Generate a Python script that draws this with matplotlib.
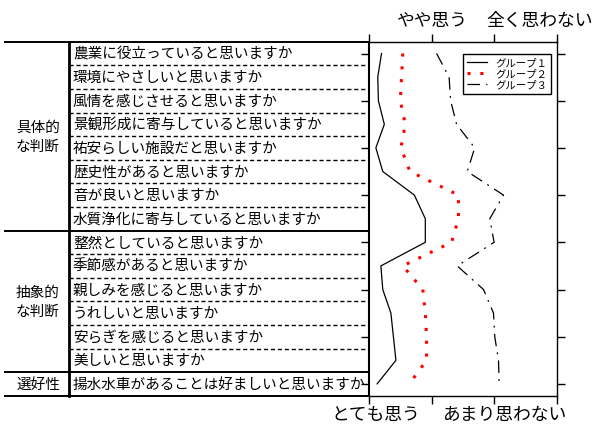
import matplotlib
matplotlib.use("Agg")
import matplotlib.pyplot as plt
import matplotlib.transforms as mtransforms
import numpy as np

plt.rcParams['font.family'] = ['Noto Sans CJK JP', 'DejaVu Sans']

items = ["農業に役立っていると思いますか",
         "環境にやさしいと思いますか",
         "風情を感じさせると思いますか",
         "景観形成に寄与していると思いますか",
         "祐安らしい施設だと思いますか",
         "歴史性があると思いますか",
         "音が良いと思いますか",
         "水質浄化に寄与していると思いますか",
         "整然としていると思いますか",
         "季節感があると思いますか",
         "親しみを感じると思いますか",
         "うれしいと思いますか",
         "安らぎを感じると思いますか",
         "美しいと思いますか",
         "揚水水車があることは好ましいと思いますか"]
groups = ["具体的\nな判断", "抽象的\nな判断", "選好性"]
group_rows = [(0, 7), (8, 13), (14, 14)]

group1 = [1.20, 1.14, 1.15, 1.245, 1.11, 1.22, 1.725, 1.90, 1.90, 1.19, 1.22, 1.35, 1.39, 1.43, 1.13]
group2 = [1.54, 1.52, 1.50, 1.58, 1.51, 1.655, 2.43, 2.43, 2.32, 1.54, 1.86, 1.90, 1.92, 1.92, 1.645]
group3 = [2.08, 2.28, 2.305, 2.40, 2.69, 2.57, 3.15, 2.93, 3.00, 2.41, 2.83, 2.99, 3.01, 3.07, 3.08]
names = ["グループ１", "グループ２", "グループ３"]

# scale labels (bottom: 1 and 3, top: 2 and 4); label centres sit a bit off the ticks
bottom_labels = ["とても思う", "あまり思わない"]
bottom_pos = [1.11, 3.16]
top_labels = ["やや思う", "全く思わない"]
top_pos = [2.02, 3.72]

W, H = 593, 427
fig = plt.figure(figsize=(W / 100, H / 100), dpi=100)

ax_left, ax_right = 369 / W, 556.7 / W
ax_top, ax_bot = 1 - 42.7 / H, 1 - 396.7 / H

# table on the left
tb = fig.add_axes([0, ax_bot, ax_left, ax_top - ax_bot])
tb.set_xlim(0, 369)
tb.set_ylim(14.5, -0.5)
tb.axis('off')
n = len(items)
for y in [-0.5, 7.5, 13.5, 14.5]:
    tb.plot([5, 369], [y, y], color='black', lw=1.4, clip_on=False)
for i in range(n - 1):
    if i + 0.5 in [7.5, 13.5]:
        continue
    tb.plot([69, 369], [i + 0.5, i + 0.5], color='black', lw=1.0,
            dashes=(3, 2), clip_on=False)
tb.plot([69, 69], [-0.5, 14.5], color='black', lw=2, clip_on=False)
for i, t in enumerate(items):
    tb.text(73, i, t, fontsize=10.5, va='center', ha='left')
for g, (a, b) in zip(groups, group_rows):
    tb.text(38, (a + b) / 2, g, fontsize=10.5, va='center', ha='center',
            linespacing=1.45)

# profile plot
ax = fig.add_axes([ax_left, ax_bot, ax_right - ax_left, ax_top - ax_bot])
rows = np.arange(n)
ax.plot(group1, rows, color='black', lw=0.9, label=names[0])
ax.plot(group2, rows, color='red', lw=2.2, linestyle=(0, (1, 3.2)), label=names[1])
ax.plot(group3, rows, color='black', lw=0.9, linestyle=(0, (10, 5, 1.5, 5)), label=names[2])
ax.set_xlim(1, 4)
ax.set_ylim(14.5, -0.5)
ax.set_yticks(np.arange(0, 15, 2))
ax.tick_params(axis='y', left=True, right=True, labelleft=False,
               direction='out', length=6, width=1)
ax.set_xticks([1, 2, 3, 4])
ax.tick_params(axis='x', direction='out', length=6, width=1, top=True,
               labelbottom=False)
for s in ax.spines.values():
    s.set_linewidth(1.0)
ax.spines['left'].set_linewidth(1.5)

trans = mtransforms.blended_transform_factory(ax.transData, fig.transFigure)
for x, t in zip(bottom_pos, bottom_labels):
    ax.text(x, 1 - 415 / H, t, transform=trans, fontsize=12.8,
            ha='center', va='center', clip_on=False)
for x, t in zip(top_pos, top_labels):
    ax.text(x, 1 - 20.7 / H, t, transform=trans, fontsize=12.8,
            ha='center', va='center', clip_on=False)

leg = ax.legend(loc='upper right', bbox_to_anchor=(0.97, 0.966), fontsize=7.5,
                frameon=True, fancybox=False, edgecolor='black', framealpha=1,
                handlelength=1.9, labelspacing=0.12, borderpad=0.35,
                handletextpad=0.85, borderaxespad=0)
leg.get_frame().set_linewidth(1.0)

fig.savefig("out.png", dpi=100)
